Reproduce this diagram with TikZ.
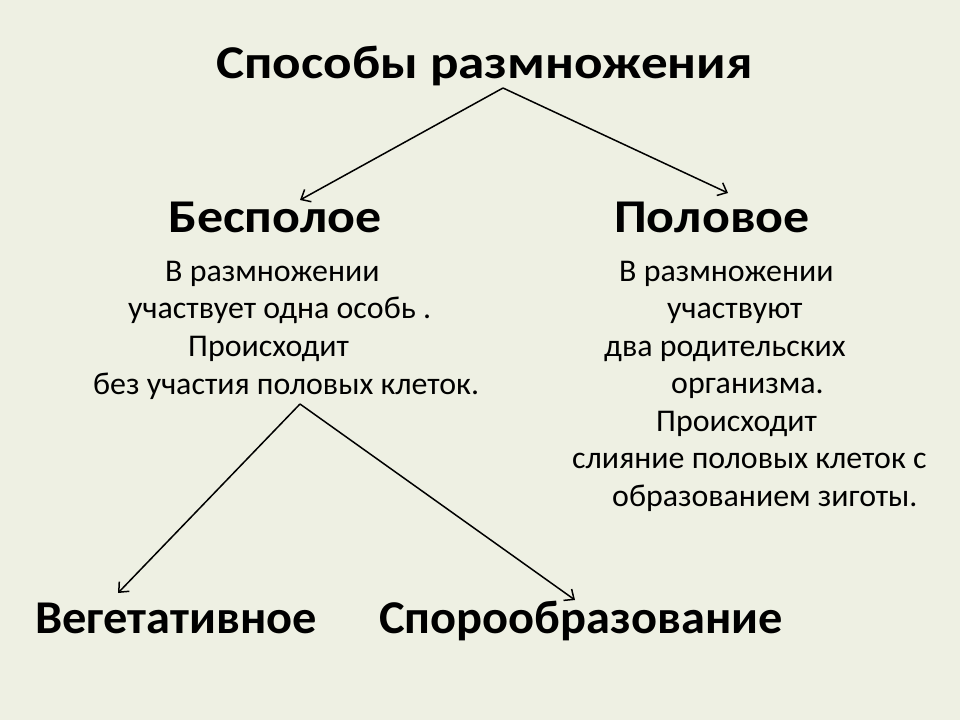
\documentclass[tikz,border=0pt]{standalone}
\usepackage{fontspec}
\setmainfont{Carlito}
\newfontfamily\headfontA[FakeStretch=1.13]{Carlito}
\newfontfamily\headfontB[FakeStretch=1.105]{Carlito}
\newfontfamily\headfontC[FakeStretch=1.03]{Carlito}
\newfontfamily\bodyfont[FakeStretch=1.01]{Carlito}
\usetikzlibrary{arrows.meta}
\definecolor{bgcol}{RGB}{238,240,227}
\tikzset{
  big/.style={anchor=base west, inner sep=0pt, font=\headfontA\fontsize{47}{50}\selectfont\bfseries},
  mid/.style={anchor=base west, inner sep=0pt, font=\headfontB\fontsize{47}{50}\selectfont\bfseries},
  low/.style={anchor=base west, inner sep=0pt, font=\headfontC\fontsize{47}{50}\selectfont\bfseries},
  body/.style={anchor=base west, inner sep=0pt, font=\bodyfont\fontsize{31.6}{34}\selectfont},
  conn/.style={line width=1.5pt, -{Straight Barb[length=8pt,width=14pt]}}
}
\begin{document}
\begin{tikzpicture}[x=1pt,y=-1pt]
\fill[bgcol] (0,0) rectangle (960,720);
\useasboundingbox (0,0) rectangle (960,720);
% headings
\node[big] (title) at (216,78) {Способы размножения};
\node[mid] (asex) at (168,232) {Бесполое};
\node[mid] (sex) at (614,232) {Половое};
\node[low] (veg) at (35,633) {Вегетативное};
\node[low] (spor) at (379,633) {Спорообразование};
% left body
\node[body] (l1) at (165,281) {В размножении};
\node[body] (l2) at (128,318.5) {участвует одна особь .};
\node[body] (l3) at (188,356.5) {Происходит};
\node[body] (l4) at (93,394) {без участия половых клеток.};
% right body
\node[body] (r1) at (619,281) {В размножении};
\node[body] (r2) at (667,318.5) {участвуют};
\node[body] (r3) at (604,356) {два родительских};
\node[body] (r4) at (671,393.5) {организма.};
\node[body] (r5) at (656,431) {Происходит};
\node[body] (r6) at (572,468.5) {слияние половых клеток с};
\node[body] (r7) at (612,506) {образованием зиготы.};
% connector ends
\coordinate (top) at (503,88);
\coordinate (asexin) at (300,200);
\coordinate (sexin) at (728,193);
\coordinate (mid) at (300,404);
\coordinate (vegin) at (118,593);
\coordinate (sporin) at (575,600);
\draw[conn] (top) -- (asexin);
\draw[conn] (top) -- (sexin);
\draw[conn] (mid) -- (vegin);
\draw[conn] (mid) -- (sporin);
\end{tikzpicture}
\end{document}
